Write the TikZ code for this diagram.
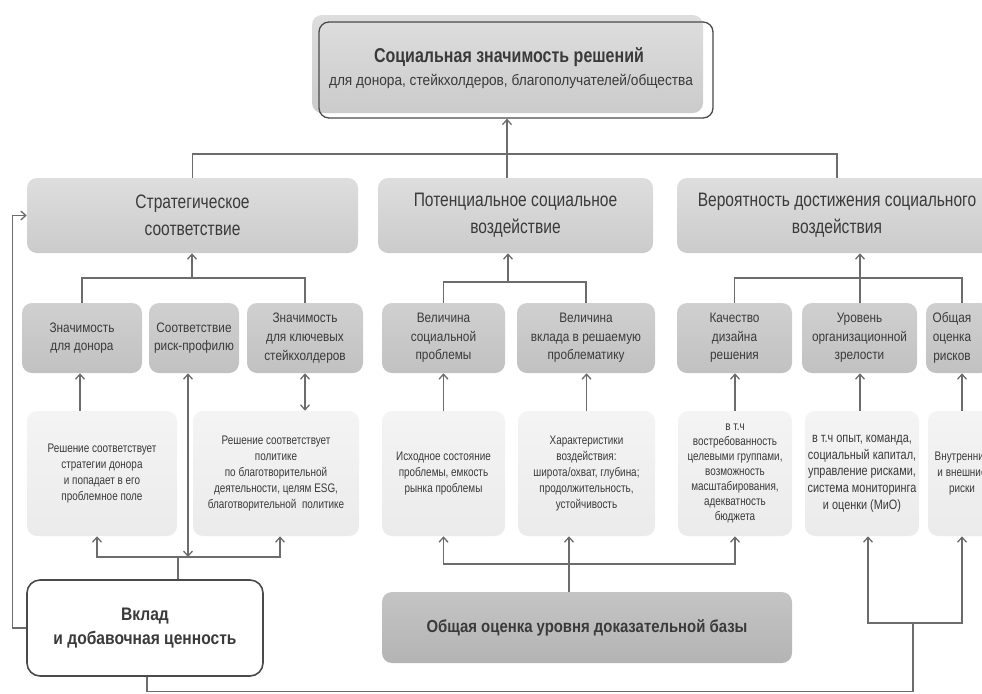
\documentclass[tikz,border=0pt]{standalone}
\usepackage{fontspec}
\setmainfont[FakeStretch=0.86]{Liberation Sans}
\newfontfamily\sqzf[FakeStretch=0.8]{Liberation Sans}
\newfontfamily\narf[FakeStretch=0.8]{Liberation Sans}
\newfontfamily\widf[FakeStretch=0.9]{Liberation Sans}
\usetikzlibrary{arrows.meta}
\newlength\pxu
\setlength\pxu{0.75pt}
\definecolor{txt}{HTML}{3A3A3A}
\definecolor{linec}{HTML}{6C6C6C}
\definecolor{edgec}{HTML}{4A4A4A}
\definecolor{ltop}{HTML}{DEDEDE}
\definecolor{lbot}{HTML}{CBCBCB}
\definecolor{mtop}{HTML}{D0D0D0}
\definecolor{mbot}{HTML}{C1C1C1}
\definecolor{stop}{HTML}{F4F4F4}
\definecolor{sbot}{HTML}{EBEBEB}
\definecolor{otop}{HTML}{C4C4C4}
\definecolor{obot}{HTML}{B4B4B4}
\tikzset{
  conn/.style={draw=linec, line width=0.975pt},
  arr/.style={conn, -{Straight Barb[length=3.75pt,width=6.75pt]}},
  darr/.style={conn, {Straight Barb[length=3.75pt,width=6.75pt]}-{Straight Barb[length=3.75pt,width=6.75pt]}},
  basebox/.style={rectangle, rounded corners=7.5pt, inner sep=0pt, align=center, text=txt},
  lvltwo/.style={basebox, top color=ltop, bottom color=lbot, minimum height=56.25pt,
     font=\narf\fontsize{14.6}{20.2}\selectfont},
  lvlthree/.style={basebox, top color=mtop, bottom color=mbot, minimum height=52.5pt,
     font=\fontsize{10.3}{14}\selectfont},
  lvlfour/.style={basebox, top color=stop, bottom color=sbot, minimum height=93.75pt,
     font=\sqzf\fontsize{9.3}{12}\selectfont},
}
\begin{document}
\begin{tikzpicture}[x=0.75pt,y=-0.75pt]
\useasboundingbox (0,0) rectangle (982,693);
\begin{scope}
\clip (0,0) rectangle (982,693);
% top box
\node[basebox, top color=ltop, bottom color=lbot, minimum width=391\pxu, minimum height=98\pxu] (topfill) at (507.5,64) {};
\node[basebox, draw=edgec, line width=1.3\pxu, minimum width=394\pxu, minimum height=96\pxu] (top) at (516,70) {};
\node[anchor=base, text=txt, font=\narf\bfseries\fontsize{15}{18}\selectfont, inner sep=0pt] (title) at (509,62) {Социальная значимость решений};
\node[anchor=base, text=txt, font=\widf\fontsize{11.4}{13}\selectfont, inner sep=0pt] (subtitle) at (511,85) {для донора, стейкхолдеров, благополучателей/общества};

% level 2
\node[lvltwo, minimum width=331\pxu] (S) at (192.5,215.5) {Стратегическое\\соответствие};
\node[lvltwo, minimum width=275\pxu] (P) at (515.5,215.5) {Потенциальное социальное\\воздействие};
\node[lvltwo, minimum width=320\pxu] (R) at (837,215.5) {Вероятность достижения социального\\воздействия};

% level 3
\node[lvlthree, minimum width=120\pxu] (s1) at (82,338) {Значимость\\для донора};
\node[lvlthree, minimum width=90\pxu] (s2) at (194,338) {Соответствие\\риск-профилю};
\node[lvlthree, minimum width=116\pxu] (s3) at (305,338) {Значимость\\для ключевых\\стейкхолдеров};
\node[lvlthree, minimum width=123\pxu] (p1) at (443.5,338) {Величина\\социальной\\проблемы};
\node[lvlthree, minimum width=138\pxu] (p2) at (586,338) {Величина\\вклада в решаемую\\проблематику};
\node[lvlthree, minimum width=115\pxu] (r1) at (734.5,338) {Качество\\дизайна\\решения};
\node[lvlthree, minimum width=115\pxu] (r2) at (859.5,338) {Уровень\\организационной\\зрелости};
\node[lvlthree, minimum width=64\pxu] (r3) at (958,338) {};
\node[basebox, font=\fontsize{10.3}{14}\selectfont] (r3t) at (952,338) {Общая\\оценка\\рисков};

% level 4
\node[lvlfour, minimum width=150\pxu] (a1) at (102,473.5) {Решение соответствует\\стратегии донора\\и попадает в его\\проблемное поле};
\node[lvlfour, minimum width=166\pxu] (a2) at (276,473.5) {Решение соответствует\\политике\\по благотворительной\\деятельности, целям ESG,\\благотворительной \ политике};
\node[lvlfour, minimum width=123\pxu] (b1) at (443.5,473.5) {Исходное состояние\\проблемы, емкость\\рынка проблемы};
\node[lvlfour, minimum width=137\pxu] (b2) at (586.5,473.5) {Характеристики\\воздействия:\\широта/охват, глубина;\\продолжительность,\\устойчивость};
\node[lvlfour, minimum width=114\pxu, font=\sqzf\fontsize{9.3}{11.2}\selectfont] (c1) at (735,473.5) {в т.ч\\востребованность\\целевыми группами,\\возможность\\масштабирования,\\адекватность\\бюджета};
\node[lvlfour, minimum width=114\pxu, font=\sqzf\fontsize{10.2}{12.5}\selectfont] (c2) at (862,473.5) {в т.ч опыт, команда,\\социальный капитал,\\управление рисками,\\система мониторинга\\и оценки (МиО)};
\node[lvlfour, minimum width=68\pxu] (c3) at (962,473.5) {Внутренние\\и внешние\\риски};

% bottom boxes
\node[basebox, top color=otop, bottom color=obot, minimum width=410\pxu, minimum height=71\pxu,
  font=\bfseries\fontsize{13}{16}\selectfont] (O) at (587,627.5) {Общая оценка уровня доказательной базы};
\node[basebox, rounded corners=9.75pt, fill=white, draw=edgec, line width=1.2pt, minimum width=236\pxu, minimum height=96\pxu,
  font=\bfseries\fontsize{13.6}{17.5}\selectfont] (V) at (145,628) {Вклад\\и добавочная ценность};

% top connectors
\coordinate (jt) at (507,154);
\draw[conn] (S.north) |- (jt) -| (R.north);
\draw[arr] (P.north -| jt) -- (top.south -| jt);

% level 3 -> level 2
\coordinate (js) at (192,278);
\draw[conn] (s1.north) |- (js) -| (s3.north);
\draw[arr] (js) -- (S.south -| js);
\coordinate (jp) at (508,282);
\draw[conn] (p1.north) |- (jp) -| (p2.north);
\draw[arr] (jp) -- (P.south -| jp);
\coordinate (jr) at (860,278);
\draw[conn] (r1.north) |- (jr) -| (r3.north -| c3.north);
\draw[arr] (r2.north -| jr) -- (R.south -| jr);

% level 4 -> level 3
\coordinate (xa) at (80,0);
\draw[arr] (a1.north -| xa) -- (s1.south -| xa);
\draw[darr] (a2.north -| s3.south) -- (s3.south);
\draw[arr] (b1.north) -- (p1.south);
\draw[arr] (b2.north) -- (p2.south -| b2.north);
\draw[arr] (c1.north) -- (r1.south -| c1.north);
\draw[arr] (c2.north -| jr) -- (r2.south -| jr);
\draw[arr] (c3.north) -- (r3.south -| c3.north);

% Вклад connectors
\coordinate (jv) at (178,557);
\coordinate (xl) at (97,0);
\coordinate (xr) at (280,0);
\coordinate (xm) at (188,0);
\draw[conn] (V.north -| jv) -- (jv);
\draw[arr] (jv) -| (a1.south -| xl);
\draw[arr] (jv) -| (a2.south -| xr);
\draw[darr] (jv -| xm) -- (s2.south -| xm);
\draw[arr] (V.west) -- ++(-14,0) |- (S.west);

\coordinate (jb) at (569,564);
\draw[arr] (O.north -| jb) -- (b2.south -| jb);
\draw[arr] (jb) -| (b1.south);
\draw[arr] (jb) -| (c1.south);

\coordinate (jf) at (913,623);
\coordinate (xc) at (868,0);
\draw[conn] (V.south -| 147,0) -- (147,691.5) -| (jf);
\draw[arr] (jf) -| (c2.south -| xc);
\draw[arr] (jf) -| (c3.south);
\end{scope}
\end{tikzpicture}
\end{document}
